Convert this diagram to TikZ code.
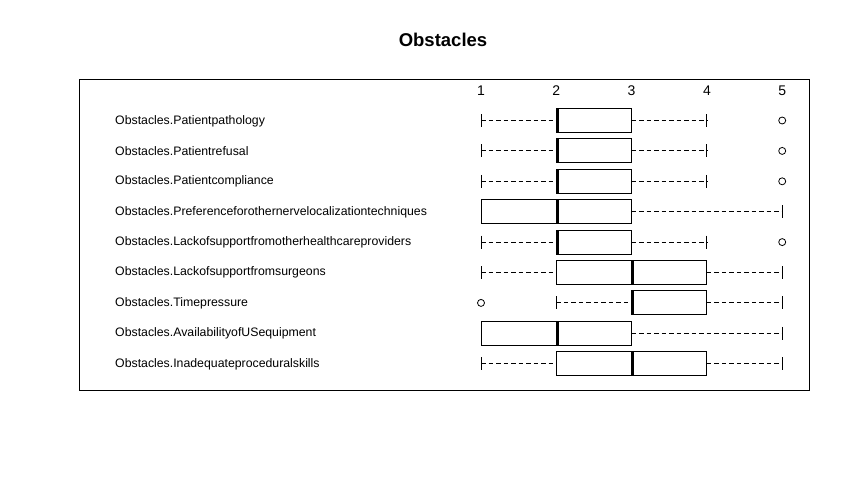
\documentclass[tikz,border=0pt]{standalone}
\usepackage{fontspec}
\setmainfont{Liberation Sans}
\begin{document}
\begin{tikzpicture}[x=1pt,y=-1pt,
  lab/.style={anchor=west,inner sep=0pt,font=\fontsize{12.3}{13}\selectfont},
  tick/.style={inner sep=0pt,font=\fontsize{14}{14}\selectfont},
  boxr/.style={draw,line width=1pt},
  med/.style={line width=3pt},
  whisk/.style={line width=1pt,dash pattern=on 4.5pt off 3pt},
  capl/.style={line width=1pt},
  outl/.style={draw,line width=0.8pt,circle,minimum size=7pt,inner sep=0pt}]
\useasboundingbox (0,0) rectangle (850,488);
\fill[white] (0,0) rectangle (850,488);
\node[font=\bfseries\fontsize{18.5}{19}\selectfont,inner sep=0pt] (title) at (443,40) {Obstacles};
\draw[line width=1pt] (79,79) rectangle (809,390);
% axis labels
\foreach \v in {1,...,5}{
  \node[tick] (t\v) at ({481+75.3*(\v-1)},91) {\v};
}
\newcommand\rowlab[3]{\node[lab] (#1) at (115,#2) {#3};}
\newcommand\myplot[8]{% y, wlo, q1, med, q3, whi, showlowwhisk(1/0), name
  \pgfmathsetmacro\ya{#1-12}\pgfmathsetmacro\yb{#1+12}
  \pgfmathsetmacro\xa{481+75.3*(#2-1)}
  \pgfmathsetmacro\xb{481+75.3*(#3-1)}
  \pgfmathsetmacro\xm{481+75.3*(#4-1)+1}
  \pgfmathsetmacro\xc{481+75.3*(#5-1)}
  \pgfmathsetmacro\xd{481+75.3*(#6-1)}
  \coordinate (#8wl) at (\xa,#1);
  \coordinate (#8q1) at (\xb,#1);
  \coordinate (#8q3) at (\xc,#1);
  \coordinate (#8wh) at (\xd,#1);
  \ifnum#7=1
    \draw[whisk] (#8wl) -- (#8q1);
    \draw[capl] (\xa,#1-6.5) -- (\xa,#1+6.5);
  \fi
  \draw[whisk] (#8q3) -- (#8wh);
  \draw[capl] (\xd,#1-6.5) -- (\xd,#1+6.5);
  \fill[white] (\xb,\ya) rectangle (\xc,\yb);
  \draw[boxr] (\xb,\ya) rectangle (\xc,\yb);
  \draw[med] (\xm,\ya) -- (\xm,\yb);
}
\rowlab{l1}{121}{Obstacles.Patientpathology}
\rowlab{l2}{151}{Obstacles.Patientrefusal}
\rowlab{l3}{181.5}{Obstacles.Patientcompliance}
\rowlab{l4}{212}{Obstacles.Preferenceforothernervelocalizationtechniques}
\rowlab{l5}{242}{Obstacles.Lackofsupportfromotherhealthcareproviders}
\rowlab{l6}{272.5}{Obstacles.Lackofsupportfromsurgeons}
\rowlab{l7}{303}{Obstacles.Timepressure}
\rowlab{l8}{333.5}{Obstacles.AvailabilityofUSequipment}
\rowlab{l9}{364}{Obstacles.Inadequateproceduralskills}
\myplot{120.5}{1}{2}{2}{3}{4}{1}{a}
\node[outl] (oa) at (782.2,120.5) {};
\myplot{150.9}{1}{2}{2}{3}{4}{1}{b}
\node[outl] (ob) at (782.2,150.9) {};
\myplot{181.3}{1}{2}{2}{3}{4}{1}{c}
\node[outl] (oc) at (782.2,181.3) {};
\myplot{211.7}{1}{1}{2}{3}{5}{0}{d}
\myplot{242.1}{1}{2}{2}{3}{4}{1}{e}
\node[outl] (oe) at (782.2,242.1) {};
\myplot{272.5}{1}{2}{3}{4}{5}{1}{f}
\myplot{302.9}{2}{3}{3}{4}{5}{1}{g}
\node[outl] (og) at (481,302.9) {};
\myplot{333.3}{1}{1}{2}{3}{5}{0}{h}
\myplot{363.7}{1}{2}{3}{4}{5}{1}{i}
\end{tikzpicture}
\end{document}
